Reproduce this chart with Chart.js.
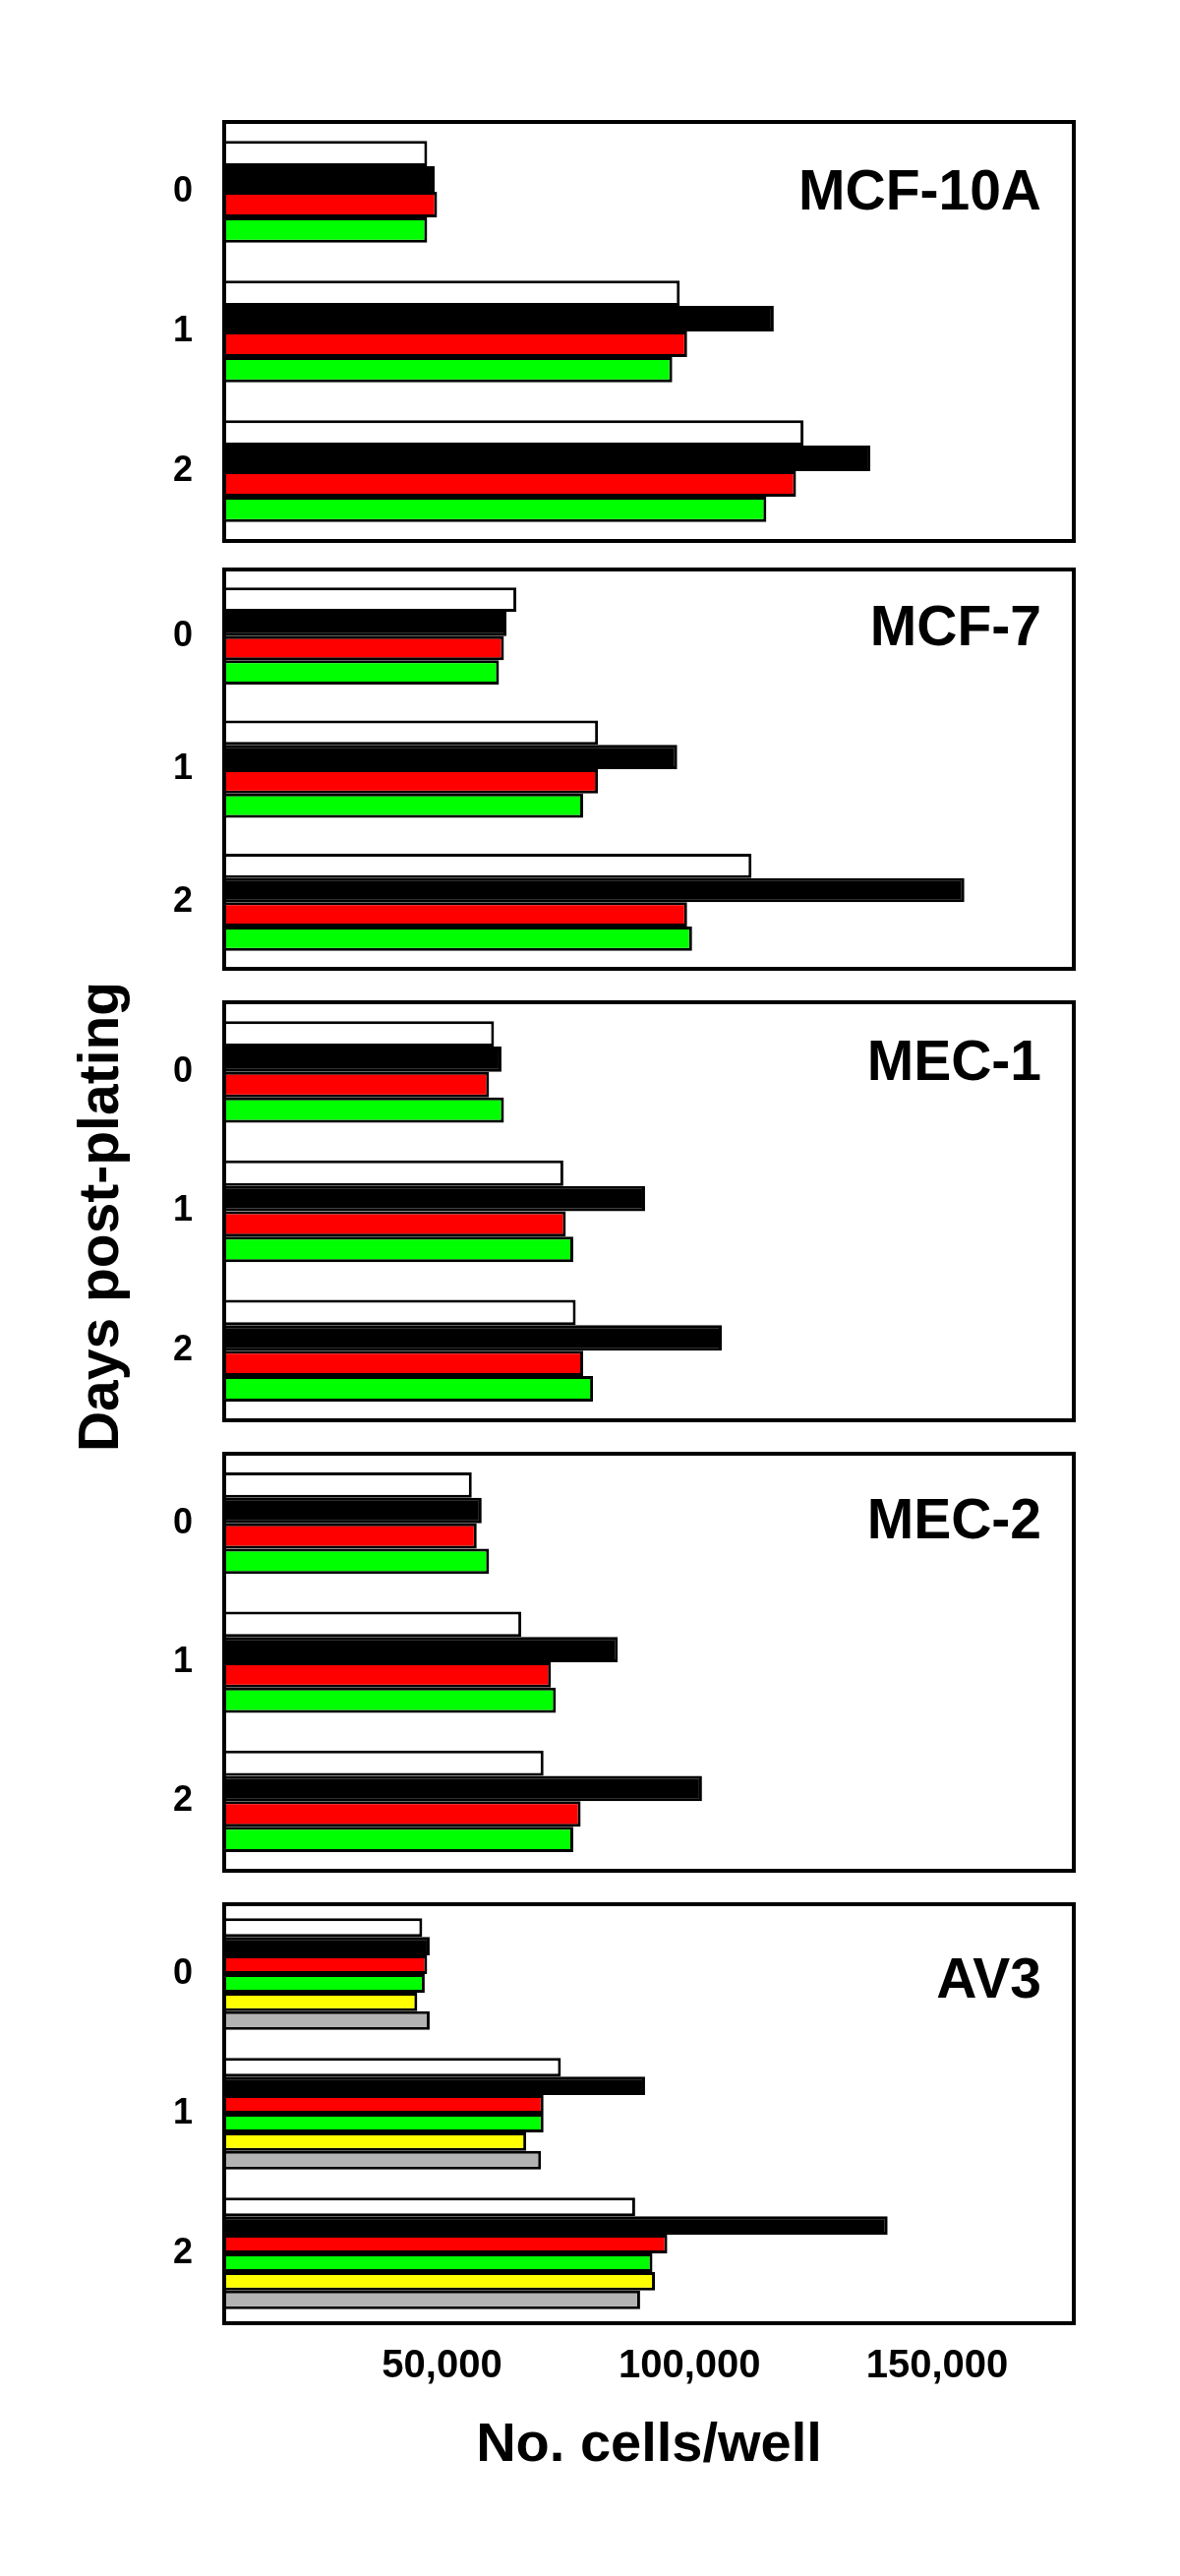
<!DOCTYPE html>
<html><head><meta charset="utf-8">
<script src="https://cdn.jsdelivr.net/npm/chart.js@4.4.1/dist/chart.umd.min.js"></script>
<style>
html,body{margin:0;padding:0;background:#fff;}
body{width:1200px;height:2619px;position:relative;overflow:hidden;font-family:"Liberation Sans",Arial,sans-serif;}
canvas{position:absolute;left:0;}
#ytitle{position:absolute;left:100px;top:1237px;transform:translate(-50%,-50%) rotate(-90deg);font-weight:bold;font-size:57px;white-space:nowrap;color:#000;line-height:1;}
</style></head><body>
<div id="ytitle">Days post-plating</div>
<canvas id="c0"></canvas>
<canvas id="c1"></canvas>
<canvas id="c2"></canvas>
<canvas id="c3"></canvas>
<canvas id="c4"></canvas>
<script>
// ---------- DATA ----------
const days = ['0', '1', '2'];
const panelNames = ['MCF-10A', 'MCF-7', 'MEC-1', 'MEC-2', 'AV3'];
const xTickValues = [50000, 100000, 150000];
const xTickLabels = ['50,000', '100,000', '150,000'];
const xMin = 6000, xMax = 177600;

const mcf10aWhite = [47000, 98000, 123000];
const mcf10aBlack = [48500, 117000, 136500];
const mcf10aRed   = [49000, 99500, 121500];
const mcf10aGreen = [47000, 96500, 115500];

const mcf7White = [65000, 81500, 112500];
const mcf7Black = [63000, 97500, 155500];
const mcf7Red   = [62500, 81500, 99500];
const mcf7Green = [61500, 78500, 100500];

const mec1White = [60500, 74500, 77000];
const mec1Black = [62000, 91000, 106500];
const mec1Red   = [59500, 75000, 78500];
const mec1Green = [62500, 76500, 80500];

const mec2White = [56000, 66000, 70500];
const mec2Black = [58000, 85500, 102500];
const mec2Red   = [57000, 72000, 78000];
const mec2Green = [59500, 73000, 76500];

const av3White  = [46000, 74000, 89000];
const av3Black  = [47500, 91000, 140000];
const av3Red    = [47000, 70500, 95500];
const av3Green  = [46500, 70500, 92500];
const av3Yellow = [45000, 67000, 93000];
const av3Gray   = [47500, 70000, 90000];

// ---------- STYLE ----------
const colors = { white: '#ffffff', black: '#000000', red: '#ff0000', green: '#00ff00', yellow: '#ffff00', gray: '#b3b3b3' };
const panelSeries = [
  [[mcf10aWhite, 'white'], [mcf10aBlack, 'black'], [mcf10aRed, 'red'], [mcf10aGreen, 'green']],
  [[mcf7White, 'white'], [mcf7Black, 'black'], [mcf7Red, 'red'], [mcf7Green, 'green']],
  [[mec1White, 'white'], [mec1Black, 'black'], [mec1Red, 'red'], [mec1Green, 'green']],
  [[mec2White, 'white'], [mec2Black, 'black'], [mec2Red, 'red'], [mec2Green, 'green']],
  [[av3White, 'white'], [av3Black, 'black'], [av3Red, 'red'], [av3Green, 'green'], [av3Yellow, 'yellow'], [av3Gray, 'gray']]
];
const panelTops = [124, 579, 1019, 1478, 1936];
const panelHeights = [426, 406, 425, 424, 426];
const labelBaselines = [89, 77, 79, 86, 95];
const catPct = [0.73, 0.73, 0.73, 0.73, 0.80];
const FONT = '"Liberation Sans", Arial, Helvetica, sans-serif';

const framePlugin = {
  id: 'panelFrame',
  afterDatasetsDraw(chart, args, opts) {
    const { ctx, chartArea: { left, top, right, bottom } } = chart;
    ctx.save();
    ctx.lineWidth = 4;
    ctx.strokeStyle = '#000';
    ctx.strokeRect(left, top, right - left, bottom - top);
    ctx.font = 'bold 57px ' + FONT;
    ctx.textAlign = 'right';
    ctx.textBaseline = 'alphabetic';
    ctx.fillStyle = '#000';
    ctx.fillText(opts.name, right - 33, top + opts.baseline);
    ctx.restore();
  }
};

function makeChart(i) {
  const canvas = document.getElementById('c' + i);
  const last = i === 4;
  const pad = 20;
  const axisH = 200;
  canvas.width = 1200;
  canvas.height = pad + panelHeights[i] + (last ? axisH : pad);
  canvas.style.top = (panelTops[i] - pad) + 'px';
  new Chart(canvas, {
    type: 'bar',
    data: {
      labels: days,
      datasets: panelSeries[i].map(([d, c]) => ({
        label: c,
        data: d,
        backgroundColor: colors[c],
        borderColor: '#000',
        borderWidth: 3,
        borderSkipped: 'start',
        barPercentage: 1,
        categoryPercentage: catPct[i]
      }))
    },
    options: {
      indexAxis: 'y',
      responsive: false,
      animation: false,
      devicePixelRatio: 1,
      layout: { autoPadding: false, padding: { top: pad, bottom: last ? 0 : pad, left: 0, right: 108 } },
      plugins: {
        legend: { display: false },
        tooltip: { enabled: false },
        panelFrame: { name: panelNames[i], baseline: labelBaselines[i] }
      },
      scales: {
        y: {
          type: 'category',
          grid: { display: false, drawTicks: false },
          border: { display: false },
          ticks: { padding: 32, color: '#000', font: { family: FONT, size: 36, weight: 'bold' } },
          afterFit(s) { s.width = 228; s.paddingTop = 0; s.paddingBottom = 0; }
        },
        x: {
          type: 'linear',
          min: xMin,
          max: xMax,
          display: last,
          grid: { display: false, drawTicks: false },
          border: { display: false },
          afterBuildTicks(s) { s.ticks = xTickValues.map(v => ({ value: v })); },
          ticks: {
            padding: 20, color: '#000', autoSkip: false, maxRotation: 0,
            font: { family: FONT, size: 40, weight: 'bold' },
            callback: (v, idx) => xTickLabels[idx]
          },
          title: {
            display: true, text: 'No. cells/well', color: '#000',
            font: { family: FONT, size: 56, weight: 'bold' },
            padding: { top: 0, bottom: 42 }
          },
          afterFit(s) { s.height = last ? axisH : 0; s.paddingLeft = 0; s.paddingRight = 0; }
        }
      }
    },
    plugins: [framePlugin]
  });
}
for (let i = 0; i < 5; i++) makeChart(i);
</script>
</body></html>
